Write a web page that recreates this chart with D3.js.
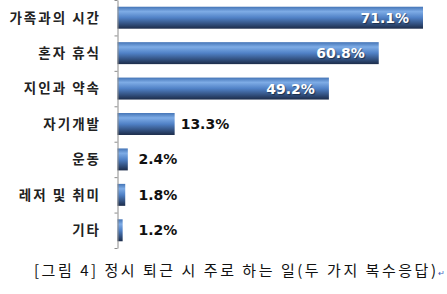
<!DOCTYPE html>
<html>
<head>
<meta charset="utf-8">
<script src="https://cdn.jsdelivr.net/npm/d3@7"></script>
<style>
  body { margin: 0; background: #fff; }
  svg { display: block; }
</style>
</head>
<body>
<svg id="chart" width="447" height="294"></svg>
<script>
// categories and values (%)
const categories = ['가족과의 시간', '혼자 휴식', '지인과 약속', '자기개발', '운동', '레저 및 취미', '기타'];
const values = [71.1, 60.8, 49.2, 13.3, 2.4, 1.8, 1.2];
const caption = '[그림 4] 정시 퇴근 시 주로 하는 일(두 가지 복수응답)';

const svg = d3.select('#chart');
const margin = { left: 117.5, top: 0, bottom: 46 };
const width = 447, height = 294;

const x = d3.scaleLinear().domain([0, 71.1]).range([margin.left, 423]);
const y = d3.scaleBand().domain(categories).range([0, height - margin.bottom]).paddingInner(0.38).paddingOuter(0.19);

// cylinder-like blue gradient used by the bars
const defs = svg.append('defs');
const grad = defs.append('linearGradient').attr('id', 'barGrad')
  .attr('x1', 0).attr('y1', 0).attr('x2', 0).attr('y2', 1);
grad.append('stop').attr('offset', '0%').attr('stop-color', '#4474b6');
grad.append('stop').attr('offset', '22%').attr('stop-color', '#7eace6');
grad.append('stop').attr('offset', '50%').attr('stop-color', '#5081c6');
grad.append('stop').attr('offset', '100%').attr('stop-color', '#1c2c4a');

// bars
svg.selectAll('.bar')
  .data(values)
  .enter()
  .append('rect')
  .attr('class', 'bar')
  .attr('x', x(0))
  .attr('y', (d, i) => y(categories[i]))
  .attr('width', d => x(d) - x(0))
  .attr('height', y.bandwidth())
  .attr('fill', 'url(#barGrad)');

// axis line with small outer ticks at band edges
const axis = d3.axisLeft(d3.scaleLinear().domain([0, categories.length]).range([0, height - margin.bottom]))
  .ticks(categories.length)
  .tickSizeInner(3)
  .tickSizeOuter(0)
  .tickFormat('');
const axisG = svg.append('g').attr('transform', `translate(${margin.left},0)`).call(axis);
axisG.selectAll('path, line').attr('stroke', '#8c8c8c');

// category labels
svg.selectAll('.cat')
  .data(categories)
  .enter()
  .append('text')
  .attr('class', 'cat')
  .attr('x', 101)
  .attr('y', d => y(d) + y.bandwidth() / 2)
  .attr('dy', '0.36em')
  .attr('text-anchor', 'end')
  .attr('font-family', '"Noto Sans CJK KR", sans-serif')
  .attr('font-weight', 'bold')
  .attr('font-size', 13.5)
  .attr('letter-spacing', 2)
  .attr('fill', '#222')
  .text(d => d);

// value labels: white inside long bars, dark outside short ones
const inside = d => d > 30;
svg.selectAll('.val')
  .data(values)
  .enter()
  .append('text')
  .attr('class', 'val')
  .attr('x', d => (inside(d) ? x(d) - 14 : Math.max(x(d) + 6, x(0) + 21)))
  .attr('y', (d, i) => y(categories[i]) + y.bandwidth() / 2)
  .attr('dy', '0.36em')
  .attr('text-anchor', d => (inside(d) ? 'end' : 'start'))
  .attr('font-family', '"DejaVu Sans", sans-serif')
  .attr('font-weight', 'bold')
  .attr('font-size', 14)
  .attr('fill', d => (inside(d) ? '#fff' : '#111'))
  .style('text-shadow', d => (inside(d) ? '1px 1px 1px rgba(0,0,0,0.45)' : 'none'))
  .text(d => d.toFixed(1) + '%');

// figure caption
svg.append('text')
  .attr('x', 34)
  .attr('y', 276)
  .attr('font-family', '"Noto Sans CJK KR", serif')
  .attr('font-size', 15)
  .attr('textLength', 402)
  .attr('lengthAdjust', 'spacing')
  .attr('fill', '#111')
  .text(caption);

svg.append('text')
  .attr('x', 438)
  .attr('y', 276)
  .attr('font-size', 8)
  .attr('fill', '#4060c0')
  .text('↵');
</script>
</body>
</html>
